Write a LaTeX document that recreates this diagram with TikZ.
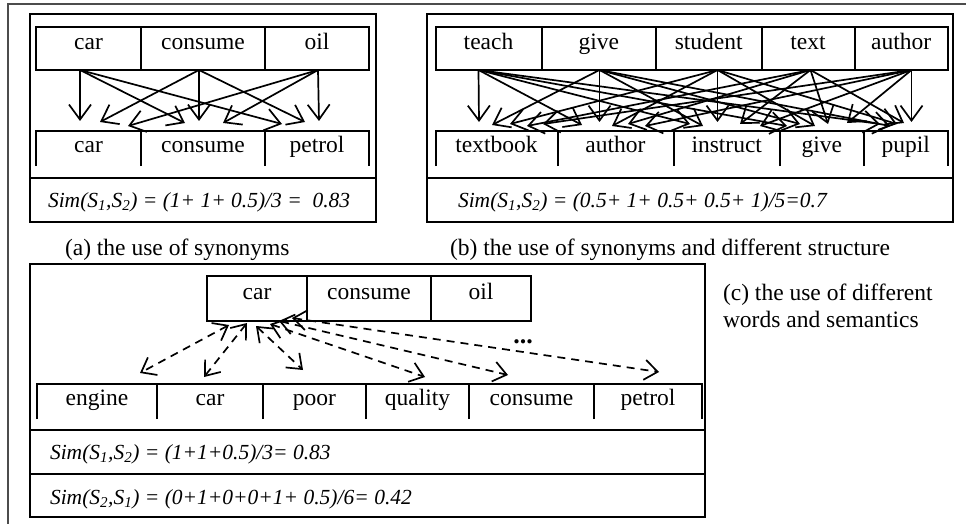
\documentclass[tikz,border=0pt]{standalone}
\usepackage{fontspec}
\setmainfont{Liberation Serif}
\usetikzlibrary{arrows.meta}
\begin{document}
\begin{tikzpicture}[x=1pt,y=-1pt,
  every node/.style={inner sep=0pt, outer sep=0pt},
  topcell/.style={font=\fontsize{23.5}{27}\selectfont, text height=16pt, text depth=14pt, minimum height=43pt, draw, line width=2pt},
  botcell/.style={font=\fontsize{23.5}{27}\selectfont, text height=16pt, text depth=8pt, minimum height=35pt},
  formula/.style={font=\fontsize{21.5}{25}\selectfont\itshape, anchor=base west},
  caption/.style={font=\fontsize{23.5}{27}\selectfont, anchor=base west},
  panel/.style={line width=2pt},
  outerframe/.style={line width=2.5pt, black!70},
  link/.style={line width=1.7pt, -{Straight Barb[length=15pt,width=22pt]}},
  dlink/.style={line width=1.7pt, dash pattern=on 8pt off 6pt, {Straight Barb[length=13pt,width=20pt]}-{Straight Barb[length=13pt,width=20pt]}},
]
\useasboundingbox (0,0) rectangle (966,524);
\draw[outerframe] (8,524) -- (8,4) -- (966,4);

% ---------------- panel (a)
\draw[panel] (30,14) rectangle (376,222);
\draw[panel] (30,178) -- (376,178);
\node[topcell, minimum width=105pt] (a1) at (88.5,48.5) {car};
\node[topcell, minimum width=124pt] (a2) at (203,48.5) {consume};
\node[topcell, minimum width=104pt] (a3) at (317,48.5) {oil};
\node[botcell, minimum width=105pt] (ab1) at (88.5,148.5) {car};
\node[botcell, minimum width=124pt] (ab2) at (203,148.5) {consume};
\node[botcell, minimum width=104pt] (ab3) at (317,148.5) {petrol};
\foreach \n in {ab1,ab2,ab3}
  \draw[panel] (\n.south west) -- (\n.north west) -- (\n.north east) -- (\n.south east);
\node[formula] (fa) at (48,207) {Sim(S\textsubscript{1},S\textsubscript{2}) = (1+ 1+ 0.5)/3 = ~0.83};
\coordinate (as1) at (80,70);
\coordinate (as2) at (199,70);
\coordinate (as3) at (318,70);
\foreach \j/\i/\x/\y in {1/1/80/121, 1/2/100/122, 1/3/128/126,
                          2/1/185/123, 2/2/199/121, 2/3/223/123,
                          3/1/282/124, 3/2/305/122, 3/3/319/121}{
  \coordinate (at\j\i) at (\x,\y);
  \draw[link] (as\i) -- (at\j\i);
}
\node[caption] (capa) at (65,255) {(a) the use of synonyms};

% ---------------- panel (b)
\draw[panel] (427,14) rectangle (953,222);
\draw[panel] (427,178) -- (953,178);
\node[topcell, minimum width=106pt] (b1) at (488.5,48.5) {teach};
\node[topcell, minimum width=114.5pt] (b2) at (598.75,48.5) {give};
\node[topcell, minimum width=105.5pt] (b3) at (708.75,48.5) {student};
\node[topcell, minimum width=93pt] (b4) at (808,48.5) {text};
\node[topcell, minimum width=93.5pt] (b5) at (901.25,48.5) {author};
\node[botcell, minimum width=122pt] (bb1) at (496.5,148.5) {textbook};
\node[botcell, minimum width=116pt] (bb2) at (615.5,148.5) {author};
\node[botcell, minimum width=106.5pt] (bb3) at (726.75,148.5) {instruct};
\node[botcell, minimum width=83.5pt] (bb4) at (821.75,148.5) {give};
\node[botcell, minimum width=84.5pt] (bb5) at (905.75,148.5) {pupil};
\foreach \n in {bb1,bb2,bb3,bb4,bb5}
  \draw[panel] (\n.south west) -- (\n.north west) -- (\n.north east) -- (\n.south east);
\node[formula] (fb) at (458,207) {Sim(S\textsubscript{1},S\textsubscript{2}) = (0.5+ 1+ 0.5+ 0.5+ 1)/5=0.7};
\coordinate (bs1) at (478.5,70);
\coordinate (bs2) at (599.5,70);
\coordinate (bs3) at (717.5,70);
\coordinate (bs4) at (810.5,70);
\coordinate (bs5) at (911.5,70);
\foreach \j/\i/\x/\y in {1/1/479/122, 1/2/492/125, 1/3/510/124, 1/4/527/126, 1/5/543/124,
                          2/1/582/125, 2/2/599.5/122, 2/3/612/126, 2/4/628/124, 2/5/645/126,
                          3/1/690/124, 3/2/703/126, 3/3/717.5/122, 3/4/740/124, 3/5/760/126,
                          4/1/787/126, 4/2/800/124, 4/3/815/126, 4/4/828/124, 4/5/847/123,
                          5/1/880/124, 5/2/890/126, 5/3/897/124, 5/4/904/123, 5/5/911.5/122}{
  \coordinate (bt\j\i) at (\x,\y);
  \draw[link] (bs\i) -- (bt\j\i);
}
\node[caption] (capb) at (450,255) {(b) the use of synonyms and different structure};

% ---------------- panel (c)
\draw[panel] (30,264) rectangle (705,517);
\draw[panel] (30,430) -- (705,430);
\draw[panel] (30,474) -- (705,474);
\node[topcell, minimum width=100pt, minimum height=45pt] (c1) at (257,298.5) {car};
\node[topcell, minimum width=124pt, minimum height=45pt] (c2) at (369,298.5) {consume};
\node[topcell, minimum width=100pt, minimum height=45pt] (c3) at (481,298.5) {oil};
\node[botcell, minimum width=120pt] (cb1) at (97,401.5) {engine};
\node[botcell, minimum width=106pt] (cb2) at (210,401.5) {car};
\node[botcell, minimum width=103pt] (cb3) at (314.5,401.5) {poor};
\node[botcell, minimum width=103pt] (cb4) at (417.5,401.5) {quality};
\node[botcell, minimum width=125pt] (cb5) at (531.5,401.5) {consume};
\node[botcell, minimum width=108pt] (cb6) at (648,401.5) {petrol};
\foreach \n in {cb1,cb2,cb3,cb4,cb5,cb6}
  \draw[panel] (\n.south west) -- (\n.north west) -- (\n.north east) -- (\n.south east);
\node[formula] (fc1) at (50,459) {Sim(S\textsubscript{1},S\textsubscript{2}) = (1+1+0.5)/3= 0.83};
\node[formula] (fc2) at (50,504) {Sim(S\textsubscript{2},S\textsubscript{1}) = (0+1+0+0+1+ 0.5)/6= 0.42};
\foreach \k/\xa/\ya/\xb/\yb in {1/229/325/140/373, 2/247/323/204/377, 3/256/326/303/370,
                               4/270/324/425/377, 5/279/321/508/375, 6/292/318/659/372}{
  \coordinate (cu\k) at (\xa,\ya);
  \coordinate (cd\k) at (\xb,\yb);
  \draw[dlink] (cu\k) -- (cd\k);
}
\node[font=\bfseries\fontsize{26}{28}\selectfont] (dots) at (523,342) {...};
\node[caption, align=left, anchor=base west] (capc) at (723,327) {(c) the use of different\\words and semantics};
\end{tikzpicture}
\end{document}
